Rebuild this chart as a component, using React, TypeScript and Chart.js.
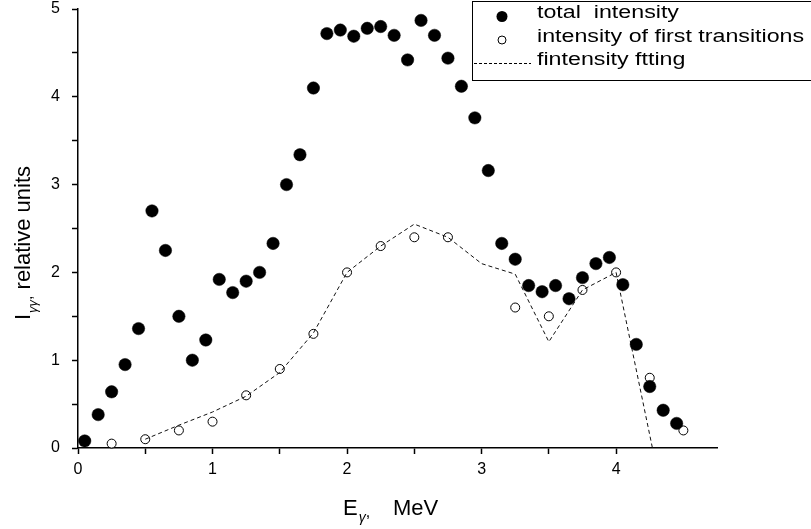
import React, { useEffect, useRef } from "react";
import { Chart, registerables } from "chart.js";

Chart.register(...registerables);

// Total intensity (filled circles)
const totalX = [0.05, 0.15, 0.25, 0.35, 0.45, 0.55, 0.65, 0.75, 0.85, 0.95, 1.05, 1.15, 1.25, 1.35, 1.45, 1.55, 1.65, 1.75, 1.85, 1.95, 2.05, 2.15, 2.25, 2.35, 2.45, 2.55, 2.65, 2.75, 2.85, 2.95, 3.05, 3.15, 3.25, 3.35, 3.45, 3.55, 3.65, 3.75, 3.85, 3.95, 4.05, 4.15, 4.25, 4.35, 4.45];
const totalY = [0.08, 0.38, 0.64, 0.95, 1.36, 2.70, 2.25, 1.50, 1.00, 1.23, 1.92, 1.77, 1.90, 2.00, 2.33, 3.00, 3.34, 4.10, 4.72, 4.76, 4.69, 4.78, 4.80, 4.70, 4.42, 4.87, 4.70, 4.44, 4.12, 3.76, 3.16, 2.33, 2.15, 1.85, 1.78, 1.85, 1.70, 1.94, 2.10, 2.17, 1.86, 1.18, 0.70, 0.43, 0.28];

// Intensity of first transitions (open circles)
const firstX = [0.25, 0.5, 0.75, 1.0, 1.25, 1.5, 1.75, 2.0, 2.25, 2.5, 2.75, 3.25, 3.5, 3.75, 4.0, 4.25, 4.5];
const firstY = [0.05, 0.10, 0.20, 0.30, 0.60, 0.90, 1.30, 2.00, 2.30, 2.40, 2.40, 1.60, 1.50, 1.80, 2.00, 0.80, 0.20];

// Fitting (dashed line)
const fitX = [0.5, 0.75, 1.0, 1.25, 1.5, 1.75, 2.0, 2.25, 2.5, 2.75, 3.0, 3.25, 3.5, 3.75, 4.0, 4.27];
const fitY = [0.10, 0.26, 0.41, 0.59, 0.86, 1.31, 2.00, 2.30, 2.55, 2.40, 2.10, 1.98, 1.21, 1.80, 2.00, 0.0];

const xMin = 0;
const xMax = 4.75;
const yMin = 0;
const yMax = 5;
const tickStep = 0.5;

const legendLabels = ["total  intensity", "intensity of first transitions", "fintensity ftting"];

const FONT = '"Liberation Sans", Arial, Helvetica, sans-serif';

const tickCallback = (v: number) => {
  const val = Number(v);
  if (Math.abs(val * 2 - Math.round(val * 2)) > 1e-6) return null;
  if (Math.abs(val - Math.round(val)) < 1e-6) return String(Math.round(val));
  return "";
};

const decorPlugin = {
  id: "decor",
  afterDraw(chart: any) {
    const ctx = chart.ctx as CanvasRenderingContext2D;
    ctx.save();
    ctx.fillStyle = "#000";
    ctx.strokeStyle = "#000";

    // X axis title: E_γ,  MeV
    ctx.textBaseline = "alphabetic";
    ctx.textAlign = "left";
    ctx.font = `22px ${FONT}`;
    let x = 343;
    const by = 515;
    ctx.fillText("E", x, by);
    x += ctx.measureText("E").width + 1;
    ctx.font = `italic 14px ${FONT}`;
    ctx.fillText("γ", x, by + 7);
    x += ctx.measureText("γ").width;
    ctx.font = `16px ${FONT}`;
    ctx.fillText(",", x, by + 2);
    ctx.font = `22px ${FONT}`;
    ctx.fillText("MeV", 393, by);

    // Y axis title: I_γγ, relative units (rotated)
    ctx.save();
    ctx.translate(30, 320);
    ctx.rotate(-Math.PI / 2);
    ctx.font = `22px ${FONT}`;
    let t = 0;
    ctx.fillText("I", t, 0);
    t += ctx.measureText("I").width + 1;
    ctx.font = `italic 13px ${FONT}`;
    ctx.fillText("γγ", t, 7);
    t += ctx.measureText("γγ").width;
    ctx.font = `16px ${FONT}`;
    ctx.fillText(",", t, 2);
    t += ctx.measureText(",").width + 6;
    ctx.font = `22px ${FONT}`;
    ctx.fillText("relative units", t, 0);
    ctx.restore();

    // Legend box
    ctx.lineWidth = 1;
    ctx.strokeRect(472.5, 1.5, 400, 79);
    ctx.beginPath();
    ctx.arc(502, 16.5, 5.5, 0, Math.PI * 2);
    ctx.fill();
    ctx.beginPath();
    ctx.arc(502, 40, 4, 0, Math.PI * 2);
    ctx.fillStyle = "#fff";
    ctx.fill();
    ctx.stroke();
    ctx.fillStyle = "#000";
    ctx.save();
    ctx.setLineDash([3, 2]);
    ctx.beginPath();
    ctx.moveTo(474, 63.5);
    ctx.lineTo(531, 63.5);
    ctx.stroke();
    ctx.restore();
    const baselines = [18, 41.5, 65];
    ctx.font = `18px ${FONT}`;
    legendLabels.forEach((lbl, i) => {
      ctx.save();
      ctx.translate(537, baselines[i]);
      ctx.scale(1.29, 1.05);
      ctx.fillText(lbl, 0, 0);
      ctx.restore();
    });

    ctx.restore();
  },
};

export default function App() {
  const ref = useRef<HTMLCanvasElement | null>(null);

  useEffect(() => {
    document.body.style.margin = "0";
    document.body.style.overflow = "hidden";
    const canvas = ref.current;
    if (!canvas) return;

    const chart = new Chart(canvas, {
      type: "scatter",
      data: {
        datasets: [
          {
            label: legendLabels[0],
            data: totalX.map((x, i) => ({ x, y: totalY[i] })),
            pointRadius: 6.2,
            pointHoverRadius: 6.2,
            backgroundColor: "#000",
            borderColor: "#000",
            borderWidth: 0.5,
            order: 0,
            clip: false,
          },
          {
            label: legendLabels[1],
            data: firstX.map((x, i) => ({ x, y: firstY[i] })),
            pointRadius: 4.5,
            pointHoverRadius: 4.5,
            backgroundColor: "#fff",
            borderColor: "#000",
            borderWidth: 1,
            order: 2,
            clip: false,
          },
          {
            label: legendLabels[2],
            data: fitX.map((x, i) => ({ x, y: fitY[i] })),
            showLine: true,
            pointRadius: 0,
            borderColor: "#111",
            borderWidth: 1,
            borderDash: [4, 3],
            order: 1,
            clip: false,
          },
        ],
      },
      options: {
        responsive: false,
        animation: false,
        events: [],
        layout: { padding: { top: 9, right: 94, left: 0, bottom: 0 } },
        plugins: {
          legend: { display: false },
          tooltip: { enabled: false },
          title: { display: false },
        },
        scales: {
          x: {
            type: "linear",
            min: xMin,
            max: xMax,
            afterFit: (s: any) => {
              s.height = 81;
              s.paddingLeft = 0;
              s.paddingRight = 0;
            },
            ticks: {
              stepSize: tickStep,
              autoSkip: false,
              maxRotation: 0,
              color: "#000",
              font: { family: FONT, size: 16, lineHeight: 1 },
              padding: 8,
              callback: tickCallback as any,
            },
            grid: {
              drawOnChartArea: false,
              drawTicks: true,
              tickLength: 6,
              color: "#000",
              tickWidth: 1.5,
            },
            border: { display: true, color: "#000", width: 1.5 },
          },
          y: {
            type: "linear",
            min: yMin,
            max: yMax,
            afterFit: (s: any) => {
              s.width = 78;
              s.paddingTop = 0;
              s.paddingBottom = 0;
            },
            ticks: {
              stepSize: tickStep,
              autoSkip: false,
              color: "#000",
              font: { family: FONT, size: 16, lineHeight: 1 },
              padding: 12,
              callback: tickCallback as any,
            },
            grid: {
              drawOnChartArea: false,
              drawTicks: true,
              tickLength: 6,
              color: "#000",
              tickWidth: 1.5,
            },
            border: { display: true, color: "#000", width: 1.5 },
          },
        },
      },
      plugins: [decorPlugin],
    });

    return () => {
      chart.destroy();
    };
  }, []);

  return (
    <div style={{ width: 811, height: 529, background: "#fff" }}>
      <canvas ref={ref} width={811} height={529} style={{ display: "block" }} />
    </div>
  );
}
